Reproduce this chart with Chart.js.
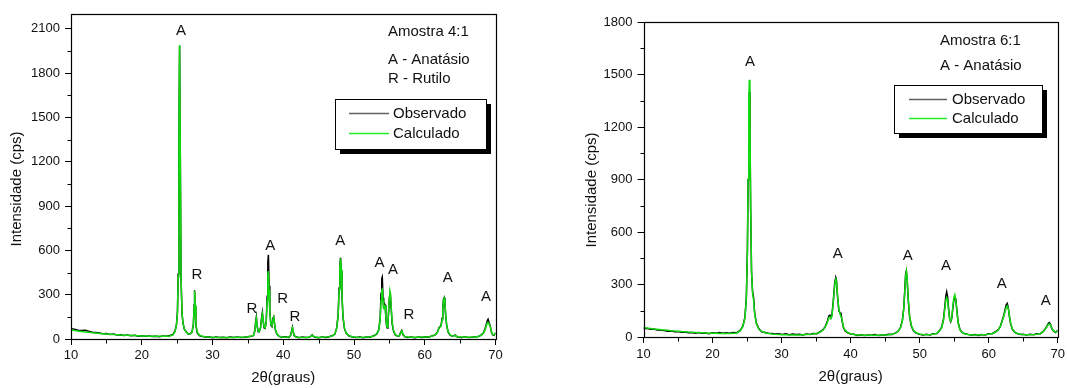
<!DOCTYPE html>
<html>
<head>
<meta charset="utf-8">
<script src="https://cdn.jsdelivr.net/npm/chart.js@4.4.0/dist/chart.umd.min.js"></script>
<style>
  html, body { margin: 0; padding: 0; background: #fff; }
  #wrap { position: relative; width: 1067px; height: 388px; overflow: hidden; }
  .panel { position: absolute; top: 0; height: 388px; }
</style>
</head>
<body>
<div id="wrap">
  <div class="panel" style="left:0;width:535px"><canvas id="chartLeft" width="535" height="388"></canvas></div>
  <div class="panel" style="left:540px;width:527px"><canvas id="chartRight" width="527" height="388"></canvas></div>
</div>
<script>
// ---- Amostra 4:1 ----
const leftX = [
  10, 10.5, 11, 11.5, 12, 12.5, 13, 13.5, 14, 14.5, 15, 15.5, 16, 16.5, 17, 17.5, 18, 18.5, 19, 19.5, 20, 20.5, 21, 21.5, 22, 22.5, 23, 23.5, 24,
  24.4, 24.7, 24.9, 25.05, 25.15, 25.25, 25.35, 25.45, 25.55, 25.7, 25.85, 26.0, 26.3, 26.6, 26.9,
  27.1, 27.3, 27.4, 27.47, 27.55, 27.65, 27.85, 28.2, 28.6,
  29, 29.5, 30, 30.5, 31, 31.5, 32, 32.5, 33, 33.5, 34, 34.5, 35, 35.5,
  35.8, 36.0, 36.1, 36.2, 36.3, 36.45, 36.6, 36.8, 36.95, 37.05, 37.15, 37.3, 37.45, 37.6, 37.72, 37.82, 37.9, 38.0, 38.1, 38.25, 38.4, 38.55, 38.65, 38.75, 38.9, 39.1, 39.4,
  39.8, 40.3, 40.8, 41.05,
  41.2, 41.3, 41.4, 41.55, 41.8,
  42.2, 42.7, 43.2, 43.7, 43.95, 44.1, 44.25, 44.5, 45, 45.5, 46, 46.5, 47, 47.3,
  47.55, 47.75, 47.9, 48.0, 48.1, 48.2, 48.3, 48.45, 48.65, 48.9, 49.3, 49.8,
  50.3, 50.8, 51.3, 51.8, 52.3, 52.8, 53.2,
  53.5, 53.7, 53.82, 53.92, 54.0, 54.1, 54.2, 54.3, 54.4, 54.5, 54.6, 54.7, 54.8, 54.9, 55.0, 55.07, 55.15, 55.25, 55.4, 55.6, 55.85, 56.1,
  56.4, 56.6, 56.75, 56.9, 57.2,
  57.6, 58.1, 58.6, 59.1, 59.6, 60.1, 60.6, 61.1, 61.5,
  61.8, 62.0, 62.15, 62.3, 62.45, 62.55, 62.65, 62.75, 62.85, 62.95, 63.1, 63.3, 63.55, 63.8, 64.05, 64.3, 64.5, 64.8,
  65.2, 65.7, 66.2, 66.7, 67.2, 67.6, 68.0, 68.3,
  68.5, 68.7, 68.85, 68.95, 69.1, 69.25, 69.4, 69.6, 69.8, 70
];
const leftObs = [
  70, 66, 60, 58, 60, 52, 46, 44, 40, 35, 37, 31, 33, 27, 29, 23, 27, 22, 25, 19, 22, 18, 21, 17, 19, 16, 20, 18, 24,
  30, 55, 95, 190, 440, 1320, 1985, 1230, 410, 165, 105, 68, 48, 33, 37,
  47, 100, 230, 330, 220, 95, 40, 22, 16,
  13, 15, 9, 13, 10, 12, 8, 13, 10, 14, 11, 12, 16, 19,
  24, 60, 120, 150, 90, 50, 48, 80, 150, 180, 125, 75, 72, 125, 290, 520, 570, 360, 190, 95, 85, 140, 150, 110, 60, 33, 18,
  12, 15, 11, 24,
  58, 80, 50, 22, 15,
  9, 13, 10, 12, 22, 28, 18, 12, 8, 14, 11, 15, 24, 33,
  75, 160, 345, 500, 550, 460, 290, 145, 70, 38, 20, 13,
  10, 13, 9, 14, 13, 22, 33,
  62, 140, 310, 410, 420, 280, 210, 240, 230, 145, 90, 75, 105, 190, 280, 320, 295, 210, 100, 50, 28, 20,
  22, 45, 58, 30, 15,
  11, 14, 9, 13, 10, 15, 13, 22, 28,
  48, 75, 85, 90, 140, 210, 270, 280, 235, 165, 90, 48, 28, 20, 22, 26, 16, 12,
  10, 14, 11, 12, 16, 17, 28, 42,
  65, 100, 125, 134, 110, 90, 50, 28, 25, 42
];
const leftCalc = [
  62, 58, 54, 51, 48, 45, 42, 40, 38, 36, 34, 32, 30, 29, 27, 26, 25, 24, 23, 22, 21, 20, 19, 19, 18, 18, 18, 19, 21,
  28, 50, 90, 180, 420, 1300, 1990, 1250, 430, 170, 100, 70, 45, 35, 36,
  45, 95, 220, 325, 230, 100, 45, 25, 18,
  15, 13, 12, 11, 11, 11, 11, 11, 11, 12, 12, 13, 15, 20,
  25, 55, 110, 140, 95, 55, 50, 75, 140, 170, 130, 80, 75, 120, 260, 430, 460, 330, 180, 100, 90, 130, 145, 115, 65, 35, 20,
  14, 12, 14, 25,
  55, 75, 55, 25, 14,
  12, 11, 11, 13, 20, 26, 20, 13, 11, 12, 13, 16, 22, 35,
  70, 150, 330, 490, 545, 470, 300, 150, 75, 40, 22, 15,
  12, 11, 12, 13, 15, 20, 35,
  60, 130, 260, 330, 336, 260, 200, 230, 225, 150, 95, 80, 110, 200, 290, 325, 310, 220, 110, 55, 30, 22,
  20, 40, 55, 35, 17,
  14, 12, 12, 12, 13, 14, 16, 20, 30,
  45, 70, 82, 85, 130, 200, 260, 275, 240, 170, 95, 50, 30, 22, 20, 24, 18, 14,
  13, 12, 12, 13, 14, 18, 25, 40,
  60, 90, 110, 112, 100, 85, 55, 30, 28, 40
];
const leftPeakX = [25.56, 27.78, 35.56, 38.15, 39.9, 41.64, 48.05, 53.6, 55.5, 57.77, 63.25, 68.64];
const leftPeakY = [2088, 432, 207, 630, 274, 149, 662, 517, 468, 162, 416, 286];
const leftPeakText = ['A', 'R', 'R', 'A', 'R', 'R', 'A', 'A', 'A', 'R', 'A', 'A'];
const leftNotes = ['Amostra 4:1', 'A - Anatásio', 'R - Rutilo'];

// ---- Amostra 6:1 ----
const rightX = [
  10, 10.5, 11, 11.5, 12, 12.5, 13, 13.5, 14, 14.5, 15, 15.5, 16, 16.5, 17, 17.5, 18, 18.5, 19, 19.5, 20, 20.5, 21, 21.5, 22, 22.5, 23, 23.5,
  24.0, 24.4, 24.7, 24.9, 25.05, 25.15, 25.25, 25.33, 25.42, 25.52, 25.65, 25.8, 25.95, 26.1, 26.35, 26.7, 27.1, 27.6,
  28.1, 28.6, 29.1, 29.6, 30.1, 30.6, 31.1, 31.6, 32.1, 32.6, 33.1, 33.6, 34.1, 34.6, 35.1, 35.6, 36.0,
  36.3, 36.6, 36.85, 37.0, 37.15, 37.3, 37.5, 37.7, 37.85, 37.95, 38.1, 38.3, 38.5, 38.6, 38.75, 38.95, 39.2, 39.6, 40.0,
  40.5, 41, 41.5, 42, 42.5, 43, 43.5, 44, 44.5, 45, 45.5, 46, 46.5, 46.9,
  47.2, 47.5, 47.7, 47.85, 47.97, 48.08, 48.2, 48.35, 48.55, 48.8, 49.1, 49.5, 50,
  50.5, 51, 51.5, 52, 52.5, 52.9,
  53.2, 53.45, 53.65, 53.8, 53.92, 54.05, 54.2, 54.35, 54.5, 54.65, 54.8, 54.95, 55.1, 55.25, 55.4, 55.6, 55.85, 56.2, 56.6,
  57, 57.5, 58, 58.5, 59, 59.5, 60, 60.5, 61, 61.4,
  61.7, 62.0, 62.2, 62.4, 62.55, 62.7, 62.85, 63.0, 63.2, 63.45, 63.8, 64.2, 64.6,
  65, 65.5, 66, 66.5, 67, 67.5, 67.9, 68.2,
  68.45, 68.65, 68.8, 68.95, 69.15, 69.4, 69.7, 70
];
const rightObs = [
  50, 48, 44, 45, 40, 38, 37, 33, 34, 30, 31, 27, 29, 24, 26, 22, 25, 21, 23, 19, 24, 22, 25, 21, 24, 22, 26, 25,
  38, 62, 115, 230, 490, 900, 1320, 1400, 1200, 730, 370, 260, 225, 140, 80, 48, 30, 26,
  22, 20, 17, 19, 14, 18, 13, 17, 14, 16, 12, 17, 14, 20, 19, 30, 42,
  58, 85, 120, 125, 110, 125, 210, 310, 340, 325, 235, 150, 135, 140, 95, 55, 35, 24, 17,
  16, 9, 13, 8, 12, 10, 14, 8, 12, 11, 15, 14, 24, 34,
  52, 95, 165, 270, 360, 378, 320, 210, 115, 62, 36, 22, 15,
  12, 15, 12, 18, 20, 37,
  58, 100, 175, 235, 258, 230, 160, 105, 88, 105, 160, 210, 230, 215, 150, 80, 42, 25, 18,
  15, 10, 14, 9, 14, 12, 18, 19, 30, 42,
  62, 100, 125, 160, 185, 192, 165, 118, 72, 42, 26, 18, 15,
  16, 11, 15, 13, 18, 19, 32, 47,
  62, 78, 82, 72, 48, 33, 26, 38
];
const rightCalc = [
  55, 52, 49, 46, 44, 42, 40, 38, 36, 34, 33, 31, 30, 28, 27, 26, 25, 24, 23, 22, 21, 21, 20, 20, 20, 20, 21, 23,
  35, 60, 110, 220, 480, 900, 1350, 1470, 1250, 750, 380, 250, 210, 130, 75, 45, 32, 24,
  20, 17, 15, 14, 13, 13, 12, 12, 12, 12, 13, 14, 15, 17, 21, 28, 40,
  55, 80, 110, 115, 105, 120, 200, 300, 330, 320, 240, 160, 130, 130, 100, 60, 38, 25, 18,
  14, 12, 11, 10, 10, 10, 10, 10, 11, 12, 13, 16, 22, 32,
  50, 90, 160, 260, 350, 375, 330, 220, 120, 65, 38, 24, 17,
  14, 13, 14, 16, 22, 35,
  55, 95, 160, 210, 225, 210, 150, 100, 90, 110, 170, 225, 242, 210, 140, 75, 40, 24, 17,
  14, 12, 12, 12, 13, 14, 16, 20, 28, 40,
  60, 95, 120, 150, 170, 178, 160, 120, 75, 45, 28, 20, 16,
  14, 13, 13, 14, 16, 20, 30, 45,
  60, 72, 75, 70, 50, 35, 28, 35
];
const rightPeakX = [25.44, 38.14, 48.28, 53.83, 61.89, 68.26];
const rightPeakY = [1574, 476, 466, 405, 304, 209];
const rightPeakText = ['A', 'A', 'A', 'A', 'A', 'A'];
const rightNotes = ['Amostra 6:1', 'A - Anatásio'];

const seriesNames = ['Observado', 'Calculado'];
const xTitle = '2θ(graus)';
const yTitle = 'Intensidade (cps)';

const FONT = '"Liberation Sans", Arial, sans-serif';

function pts(xs, ys) {
  return xs.map((x, i) => ({ x: x, y: ys[i] }));
}

// frame, minor ticks, y title, peak letters, notes and the boxed legend
const decorations = {
  id: 'decorations',
  afterDatasetsDraw(chart, args, o) {
    const { ctx, chartArea: a, scales: { x, y } } = chart;
    ctx.save();
    ctx.strokeStyle = '#000';
    ctx.lineWidth = 1.2;
    const l = Math.round(a.left) + 0.5, t = Math.round(a.top) + 0.5;
    const r = Math.round(a.right) + 0.5, b = Math.round(a.bottom) + 0.5;
    ctx.strokeRect(l, t, r - l, b - t);

    ctx.lineWidth = 1;
    ctx.beginPath();
    for (let v = x.min + 5; v < x.max; v += 10) {
      const px = Math.round(x.getPixelForValue(v)) + 0.5;
      ctx.moveTo(px, b); ctx.lineTo(px, b + 4);
    }
    for (let v = o.stepY / 2; v < y.max; v += o.stepY) {
      const py = Math.round(y.getPixelForValue(v)) + 0.5;
      ctx.moveTo(l, py); ctx.lineTo(l - 4, py);
    }
    ctx.stroke();

    ctx.fillStyle = '#111';
    ctx.textAlign = 'center';
    ctx.textBaseline = 'middle';
    ctx.font = '15px ' + FONT;
    ctx.save();
    ctx.translate(o.yTitleX, o.yTitleY);
    ctx.rotate(-Math.PI / 2);
    ctx.fillText(yTitle, 0, 0);
    ctx.restore();

    ctx.font = '15px ' + FONT;
    o.peakText.forEach((s, i) => {
      ctx.fillText(s, x.getPixelForValue(o.peakX[i]), y.getPixelForValue(o.peakY[i]));
    });

    ctx.font = '15px ' + FONT;
    ctx.textAlign = 'left';
    o.notes.forEach((s, i) => ctx.fillText(s, o.noteX, o.noteY[i]));

    const L = o.legend;
    ctx.fillStyle = '#000';
    ctx.fillRect(L.x + 5, L.y + 5, L.w, L.h);
    ctx.fillStyle = '#fff';
    ctx.fillRect(L.x, L.y, L.w, L.h);
    ctx.strokeStyle = '#000';
    ctx.lineWidth = 1;
    ctx.strokeRect(L.x + 0.5, L.y + 0.5, L.w, L.h);
    chart.data.datasets.forEach((ds, i) => {
      const ry = L.rows[i];
      ctx.strokeStyle = L.colors[i];
      ctx.lineWidth = 1.3;
      ctx.beginPath();
      ctx.moveTo(L.x1, ry); ctx.lineTo(L.x2, ry);
      ctx.stroke();
      ctx.fillStyle = '#111';
      ctx.fillText(ds.label, L.tx, ry);
    });
    ctx.restore();
  }
};

function makeChart(id, xs, obs, calc, opt) {
  return new Chart(document.getElementById(id), {
    type: 'line',
    data: {
      datasets: [
        { label: seriesNames[0], data: pts(xs, obs), borderColor: '#000', borderWidth: 1.5, order: 1 },
        { label: seriesNames[1], data: pts(xs, calc), borderColor: '#10dc10', borderWidth: 1.5, order: 0 }
      ]
    },
    options: {
      responsive: false,
      animation: false,
      events: [],
      layout: { padding: { top: opt.top, right: opt.right, left: 0, bottom: 0 } },
      elements: { point: { radius: 0 }, line: { tension: 0 } },
      plugins: {
        legend: { display: false },
        tooltip: { enabled: false },
        decorations: opt.deco
      },
      scales: {
        x: {
          type: 'linear',
          min: 10, max: 70,
          border: { display: false },
          grid: { drawOnChartArea: false, tickLength: 6, color: '#000' },
          ticks: { stepSize: 10, color: '#111', padding: opt.xPad, maxRotation: 0, autoSkip: false, font: { family: FONT, size: 13 }, callback: v => String(v) },
          title: { display: true, text: xTitle, color: '#111', font: { family: FONT, size: 15 }, padding: { top: 0, bottom: opt.xTitlePad } },
          afterFit(s) { s.height = opt.xH; s.paddingLeft = 0; s.paddingRight = 0; }
        },
        y: {
          min: 0, max: opt.yMax,
          border: { display: false },
          grid: { drawOnChartArea: false, tickLength: 6, color: '#000' },
          ticks: { stepSize: opt.stepY, includeBounds: false, color: '#111', padding: 5, font: { family: FONT, size: 13 }, callback: v => String(v) },
          afterFit(s) { s.width = opt.yW; s.paddingTop = 0; s.paddingBottom = 0; }
        }
      }
    },
    plugins: [decorations]
  });
}

makeChart('chartLeft', leftX, leftObs, leftCalc, {
  top: 14, right: 39.5, xH: 49, yW: 71, yMax: 2200, stepY: 300,
  xPad: 3, xTitlePad: 1,
  deco: {
    stepY: 300, yTitleX: 17, yTitleY: 189,
    peakX: leftPeakX, peakY: leftPeakY, peakText: leftPeakText,
    notes: leftNotes, noteX: 388, noteY: [31.5, 59.5, 78.5],
    legend: { x: 335, y: 99, w: 151, h: 50, x1: 349, x2: 389, tx: 393, rows: [113.5, 133.5], colors: ['#606060', '#22ee22'] }
  }
});

makeChart('chartRight', rightX, rightObs, rightCalc, {
  top: 22, right: 9.3, xH: 51, yW: 103.5, yMax: 1800, stepY: 300,
  xPad: 4, xTitlePad: 2,
  deco: {
    stepY: 300, yTitleX: 52, yTitleY: 190,
    peakX: rightPeakX, peakY: rightPeakY, peakText: rightPeakText,
    notes: rightNotes, noteX: 400, noteY: [41, 66],
    legend: { x: 354, y: 85, w: 148, h: 48, x1: 369, x2: 407, tx: 412, rows: [99.5, 118.5], colors: ['#606060', '#22ee22'] }
  }
});
</script>
</body>
</html>
